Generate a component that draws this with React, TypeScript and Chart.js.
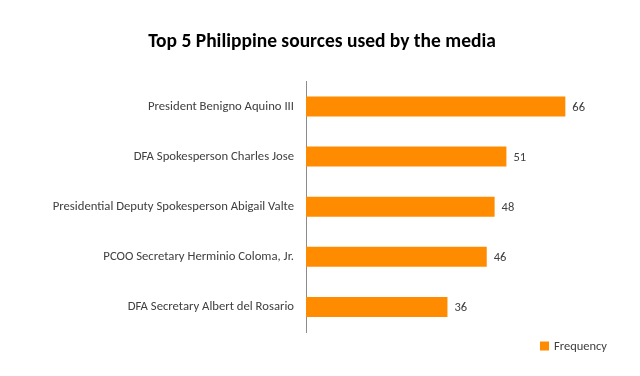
import React, { useEffect, useRef } from "react";
import { Chart, registerables } from "chart.js";

Chart.register(...registerables);

const categories = [
  "President Benigno Aquino III",
  "DFA Spokesperson Charles Jose",
  "Presidential Deputy Spokesperson Abigail Valte",
  "PCOO Secretary Herminio Coloma, Jr.",
  "DFA Secretary Albert del Rosario",
];
const frequency = [66, 51, 48, 46, 36];
const seriesName = "Frequency";
const titleText = "Top 5 Philippine sources used by the media";

const FONT = "Carlito, Lato, 'Open Sans', sans-serif";
const ORANGE = "#FF8C00";
const TEXT = "#404040";

const valueLabels = {
  id: "valueLabels",
  afterDatasetsDraw(chart: any) {
    const ctx = chart.ctx;
    const meta = chart.getDatasetMeta(0);
    ctx.save();
    ctx.font = `12.5px ${FONT}`;
    ctx.fillStyle = TEXT;
    ctx.textAlign = "left";
    ctx.textBaseline = "middle";
    meta.data.forEach((bar: any, i: number) => {
      ctx.fillText(String(chart.data.datasets[0].data[i]), bar.x + 7, bar.y + 1);
    });
    ctx.restore();
  },
};

const customLegend = {
  id: "customLegend",
  afterDraw(chart: any) {
    const ctx = chart.ctx;
    const ds = chart.data.datasets[0];
    ctx.save();
    ctx.font = `12.5px ${FONT}`;
    const text = ds.label;
    const tw = ctx.measureText(text).width;
    const right = chart.width - 33;
    const cy = chart.chartArea.bottom + 14;
    const textX = right - tw;
    const box = 9;
    ctx.fillStyle = ds.backgroundColor;
    ctx.fillRect(textX - box - 5, cy - box / 2, box, box);
    ctx.fillStyle = TEXT;
    ctx.textAlign = "left";
    ctx.textBaseline = "middle";
    ctx.fillText(text, textX, cy + 1);
    ctx.restore();
  },
};

export default function App() {
  const ref = useRef<HTMLCanvasElement>(null);
  useEffect(() => {
    if (!ref.current) return;
    const chart = new Chart(ref.current, {
      type: "bar",
      data: {
        labels: categories,
        datasets: [
          {
            label: seriesName,
            data: frequency,
            backgroundColor: ORANGE,
            borderWidth: 0,
            categoryPercentage: 0.8,
            barPercentage: 0.5,
          },
        ],
      },
      options: {
        indexAxis: "y",
        animation: false,
        responsive: false,
        maintainAspectRatio: false,
        layout: { padding: { left: 4, right: 0, top: 0, bottom: 44 } },
        scales: {
          x: {
            display: false,
            min: 0,
            max: 85,
          },
          y: {
            grid: { display: false, drawTicks: false },
            border: { display: true, color: "#8c8c8c", width: 1 },
            ticks: {
              color: TEXT,
              font: { size: 12.7, family: FONT },
              padding: 12,
            },
            afterFit(scale: any) {
              scale.width = 302;
            },
          },
        },
        plugins: {
          title: {
            display: true,
            text: titleText,
            color: "#000",
            font: { size: 19.5, weight: "bold", family: FONT },
            padding: { top: 30, bottom: 28 },
          },
          legend: { display: false },
          tooltip: { enabled: false },
        },
      },
      plugins: [valueLabels, customLegend],
    });
    return () => chart.destroy();
  }, []);
  return (
    <div style={{ position: "fixed", left: 0, top: 0, width: 640, height: 376, background: "#fff" }}>
      <canvas ref={ref} width={640} height={376} style={{ display: "block" }} />
    </div>
  );
}
